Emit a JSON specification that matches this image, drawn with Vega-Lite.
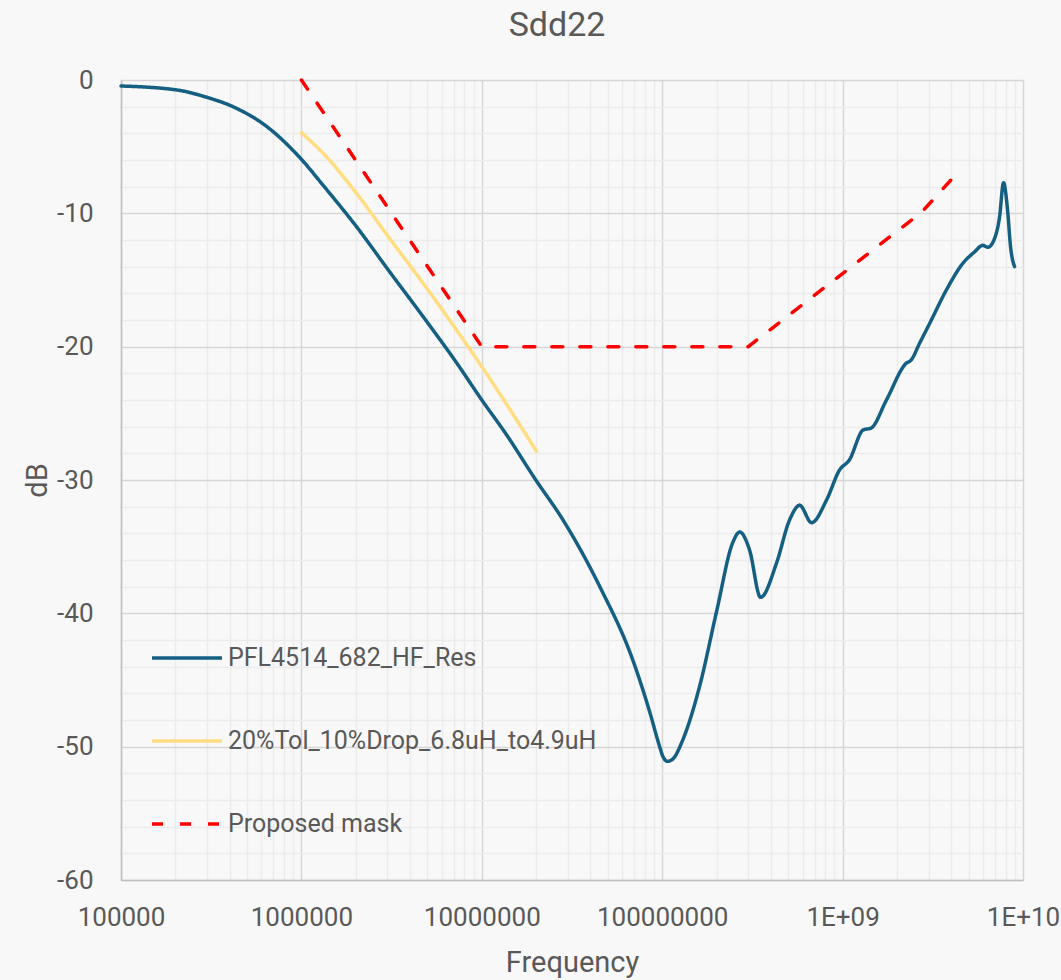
{
  "$schema": "https://vega.github.io/schema/vega-lite/v6.json",
  "width": 902,
  "height": 800,
  "autosize": {"type": "none"},
  "padding": {"left": 121, "top": 80, "right": 38, "bottom": 100},
  "background": "#f8f8f8",
  "config": {"view": {"stroke": null}, "font": "Roboto"},
  "title": {"text": "Sdd22", "fontSize": 34, "fontWeight": "normal", "color": "#595959", "font": "Roboto", "frame": "group", "anchor": "middle", "dx": -15, "offset": 24},
  "data": {"values": [
    {"series": "PFL4514_682_HF_Res", "freq": 100000, "db": -0.45},
    {"series": "PFL4514_682_HF_Res", "freq": 204000, "db": -0.75},
    {"series": "PFL4514_682_HF_Res", "freq": 299000, "db": -1.3},
    {"series": "PFL4514_682_HF_Res", "freq": 417000, "db": -2.0},
    {"series": "PFL4514_682_HF_Res", "freq": 644000, "db": -3.5},
    {"series": "PFL4514_682_HF_Res", "freq": 1000000, "db": -5.95},
    {"series": "PFL4514_682_HF_Res", "freq": 1320000, "db": -7.9},
    {"series": "PFL4514_682_HF_Res", "freq": 2020000, "db": -11.0},
    {"series": "PFL4514_682_HF_Res", "freq": 3090000, "db": -14.4},
    {"series": "PFL4514_682_HF_Res", "freq": 4730000, "db": -17.75},
    {"series": "PFL4514_682_HF_Res", "freq": 7240000, "db": -21.2},
    {"series": "PFL4514_682_HF_Res", "freq": 10000000, "db": -24.0},
    {"series": "PFL4514_682_HF_Res", "freq": 13700000, "db": -26.6},
    {"series": "PFL4514_682_HF_Res", "freq": 19700000, "db": -29.9},
    {"series": "PFL4514_682_HF_Res", "freq": 28200000, "db": -33.0},
    {"series": "PFL4514_682_HF_Res", "freq": 45100000, "db": -38.0},
    {"series": "PFL4514_682_HF_Res", "freq": 68700000, "db": -43.5},
    {"series": "PFL4514_682_HF_Res", "freq": 85300000, "db": -47.4},
    {"series": "PFL4514_682_HF_Res", "freq": 96800000, "db": -50.0},
    {"series": "PFL4514_682_HF_Res", "freq": 101000000, "db": -50.75},
    {"series": "PFL4514_682_HF_Res", "freq": 107000000, "db": -51.1},
    {"series": "PFL4514_682_HF_Res", "freq": 115000000, "db": -50.9},
    {"series": "PFL4514_682_HF_Res", "freq": 130000000, "db": -49.5},
    {"series": "PFL4514_682_HF_Res", "freq": 161000000, "db": -45.5},
    {"series": "PFL4514_682_HF_Res", "freq": 201000000, "db": -39.75},
    {"series": "PFL4514_682_HF_Res", "freq": 246000000, "db": -34.7},
    {"series": "PFL4514_682_HF_Res", "freq": 269000000, "db": -33.9},
    {"series": "PFL4514_682_HF_Res", "freq": 305000000, "db": -35.25},
    {"series": "PFL4514_682_HF_Res", "freq": 351000000, "db": -38.8},
    {"series": "PFL4514_682_HF_Res", "freq": 431000000, "db": -36.2},
    {"series": "PFL4514_682_HF_Res", "freq": 508000000, "db": -33.0},
    {"series": "PFL4514_682_HF_Res", "freq": 578000000, "db": -31.9},
    {"series": "PFL4514_682_HF_Res", "freq": 673000000, "db": -33.2},
    {"series": "PFL4514_682_HF_Res", "freq": 815000000, "db": -31.5},
    {"series": "PFL4514_682_HF_Res", "freq": 962000000, "db": -29.25},
    {"series": "PFL4514_682_HF_Res", "freq": 1090000000, "db": -28.5},
    {"series": "PFL4514_682_HF_Res", "freq": 1300000000, "db": -26.25},
    {"series": "PFL4514_682_HF_Res", "freq": 1440000000, "db": -26.1},
    {"series": "PFL4514_682_HF_Res", "freq": 1750000000, "db": -24.0},
    {"series": "PFL4514_682_HF_Res", "freq": 2250000000, "db": -21.25},
    {"series": "PFL4514_682_HF_Res", "freq": 2400000000, "db": -21.0},
    {"series": "PFL4514_682_HF_Res", "freq": 2670000000, "db": -19.75},
    {"series": "PFL4514_682_HF_Res", "freq": 3040000000, "db": -18.25},
    {"series": "PFL4514_682_HF_Res", "freq": 3760000000, "db": -15.75},
    {"series": "PFL4514_682_HF_Res", "freq": 4640000000, "db": -13.75},
    {"series": "PFL4514_682_HF_Res", "freq": 5380000000, "db": -12.9},
    {"series": "PFL4514_682_HF_Res", "freq": 5990000000, "db": -12.4},
    {"series": "PFL4514_682_HF_Res", "freq": 6380000000, "db": -12.55},
    {"series": "PFL4514_682_HF_Res", "freq": 6950000000, "db": -11.9},
    {"series": "PFL4514_682_HF_Res", "freq": 7410000000, "db": -10.3},
    {"series": "PFL4514_682_HF_Res", "freq": 7800000000, "db": -7.7},
    {"series": "PFL4514_682_HF_Res", "freq": 8210000000, "db": -9.75},
    {"series": "PFL4514_682_HF_Res", "freq": 8530000000, "db": -12.5},
    {"series": "PFL4514_682_HF_Res", "freq": 8980000000, "db": -14.0},
    {"series": "20%Tol_10%Drop_6.8uH_to4.9uH", "freq": 1000000, "db": -3.95},
    {"series": "20%Tol_10%Drop_6.8uH_to4.9uH", "freq": 1320000, "db": -5.5},
    {"series": "20%Tol_10%Drop_6.8uH_to4.9uH", "freq": 2020000, "db": -8.5},
    {"series": "20%Tol_10%Drop_6.8uH_to4.9uH", "freq": 3090000, "db": -11.9},
    {"series": "20%Tol_10%Drop_6.8uH_to4.9uH", "freq": 4730000, "db": -15.25},
    {"series": "20%Tol_10%Drop_6.8uH_to4.9uH", "freq": 7240000, "db": -18.75},
    {"series": "20%Tol_10%Drop_6.8uH_to4.9uH", "freq": 10000000, "db": -21.5},
    {"series": "20%Tol_10%Drop_6.8uH_to4.9uH", "freq": 20100000, "db": -27.85},
    {"series": "Proposed mask", "freq": 1000000, "db": 0},
    {"series": "Proposed mask", "freq": 10000000, "db": -20},
    {"series": "Proposed mask", "freq": 300000000, "db": -20},
    {"series": "Proposed mask", "freq": 2750000000, "db": -9.9},
    {"series": "Proposed mask", "freq": 4050000000, "db": -7.4}
  ]},
  "encoding": {
    "x": {
      "field": "freq", "type": "quantitative",
      "scale": {"type": "log", "domain": [100000, 10000000000], "nice": false},
      "axis": {
        "title": "Frequency",
        "values": [100000,200000,300000,400000,500000,600000,700000,800000,900000,1000000,2000000,3000000,4000000,5000000,6000000,7000000,8000000,9000000,10000000,20000000,30000000,40000000,50000000,60000000,70000000,80000000,90000000,100000000,200000000,300000000,400000000,500000000,600000000,700000000,800000000,900000000,1000000000,2000000000,3000000000,4000000000,5000000000,6000000000,7000000000,8000000000,9000000000,10000000000],
        "labelExpr": "indexof([100000,1000000,10000000,100000000,1000000000,10000000000], datum.value) >= 0 ? (datum.value >= 10000000000 ? '1E+10' : (datum.value >= 1000000000 ? '1E+09' : format(datum.value, 'd'))) : ''",
        "labelOverlap": false,
        "labelFlush": false,
        "ticks": false,
        "domainColor": "#bfbfbf",
        "domainWidth": 1.5,
        "grid": true,
        "gridColor": {"condition": {"test": "indexof([100000,1000000,10000000,100000000,1000000000,10000000000], datum.value) >= 0", "value": "#d6d6d6"}, "value": "#ececec"},
        "gridWidth": 1.5,
        "labelFontSize": 26,
        "labelColor": "#595959",
        "labelFont": "Roboto",
        "labelPadding": 24,
        "titleFontSize": 29,
        "titleFontWeight": "normal",
        "titleColor": "#595959",
        "titleFont": "Roboto",
        "titlePadding": 18
      }
    },
    "y": {
      "field": "db", "type": "quantitative",
      "scale": {"domain": [-60, 0], "nice": false, "zero": false},
      "axis": {
        "title": "dB",
        "values": [-60,-58,-56,-54,-52,-50,-48,-46,-44,-42,-40,-38,-36,-34,-32,-30,-28,-26,-24,-22,-20,-18,-16,-14,-12,-10,-8,-6,-4,-2,0],
        "labelExpr": "datum.value % 10 == 0 ? '' + datum.value : ''",
        "labelOverlap": false,
        "ticks": false,
        "domainColor": "#bfbfbf",
        "domainWidth": 1.5,
        "grid": true,
        "gridColor": {"condition": {"test": "datum.value % 10 == 0", "value": "#d6d6d6"}, "value": "#ececec"},
        "gridWidth": 1.5,
        "labelFontSize": 26,
        "labelColor": "#595959",
        "labelFont": "Roboto",
        "labelPadding": 28,
        "titleFontSize": 29,
        "titleFontWeight": "normal",
        "titleColor": "#595959",
        "titleFont": "Roboto",
        "titlePadding": 4
      }
    },
    "color": {
      "field": "series", "type": "nominal",
      "scale": {"domain": ["PFL4514_682_HF_Res", "20%Tol_10%Drop_6.8uH_to4.9uH", "Proposed mask"], "range": ["#156082", "#ffdd80", "#ff0000"]},
      "legend": {
        "title": null,
        "orient": "none",
        "legendX": 29,
        "legendY": 541,
        "symbolType": "stroke",
        "symbolSize": 4900,
        "symbolStrokeWidth": 3.5,
        "labelFontSize": 25,
        "labelColor": "#595959",
        "labelFont": "Roboto",
        "labelOffset": 4,
        "labelLimit": 500,
        "rowPadding": 33
      }
    },
    "strokeDash": {
      "field": "series", "type": "nominal",
      "scale": {"domain": ["PFL4514_682_HF_Res", "20%Tol_10%Drop_6.8uH_to4.9uH", "Proposed mask"], "range": [[1, 0], [1, 0], [11, 17]]},
      "legend": {
        "title": null,
        "orient": "none",
        "legendX": 29,
        "legendY": 541,
        "symbolType": "stroke",
        "symbolSize": 4900,
        "symbolStrokeWidth": 3.5,
        "labelFontSize": 25,
        "labelColor": "#595959",
        "labelFont": "Roboto",
        "labelOffset": 4,
        "labelLimit": 500,
        "rowPadding": 33
      }
    }
  },
  "layer": [
    {
      "transform": [{"filter": "datum.series != 'Proposed mask'"}],
      "mark": {"type": "line", "strokeWidth": 3.5, "strokeCap": "round", "interpolate": "monotone"}
    },
    {
      "transform": [{"filter": "datum.series == 'Proposed mask'"}],
      "mark": {"type": "line", "strokeWidth": 3.5, "strokeCap": "round", "interpolate": "linear"}
    }
  ]
}
